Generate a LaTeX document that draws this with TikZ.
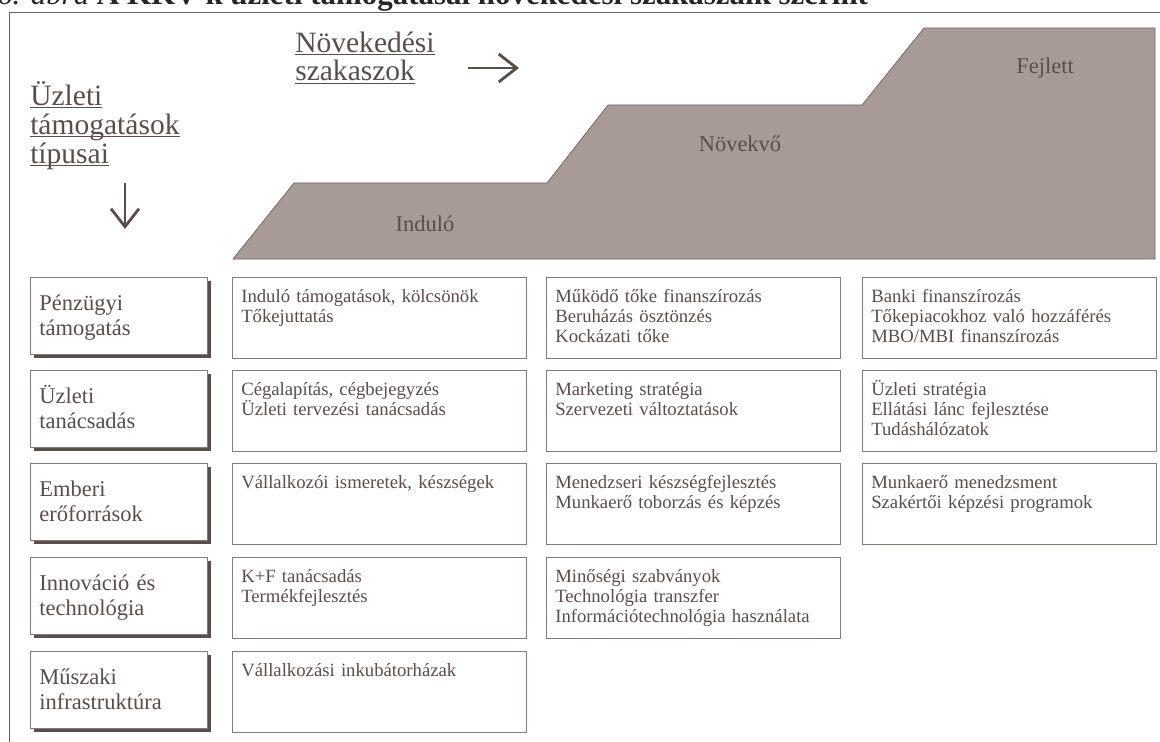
\documentclass[tikz,border=0pt]{standalone}
\usepackage{fontspec}
\setmainfont{Liberation Serif}
\usepackage{tikz}
\usetikzlibrary{arrows.meta,positioning,shadows}

\definecolor{inkc}{HTML}{5A4E4B}
\definecolor{rulec}{HTML}{857A77}
\definecolor{stagec}{HTML}{A89B97}
\definecolor{edgec}{HTML}{6E6360}

% underline at a fixed depth below the baseline
\newcommand{\ulx}[1]{\setbox0=\hbox{#1}\rlap{\rule[-2pt]{\wd0}{0.6pt}}\box0}

\begin{document}
\begin{tikzpicture}[
  x=0.025cm, y=-0.025cm,
  text=inkc,
  hdr/.style={anchor=base west,align=left,inner sep=0pt,
              font=\fontsize{21}{20.6}\selectfont},
  stage/.style={anchor=base,inner sep=0pt,font=\fontsize{16}{18}\selectfont},
  rowlbl/.style={draw=rulec,fill=white,anchor=north west,align=left,
                 text width=3.975cm,inner xsep=0.225cm,inner ysep=12.5pt,
                 text height=11pt,text depth=18.8pt,
                 font=\fontsize{16}{17.8}\selectfont,
                 drop shadow={shadow xshift=0.1cm,shadow yshift=-0.1cm,
                              fill=inkc,opacity=1}},
  cell/.style={draw=rulec,fill=white,anchor=north west,align=left,
               text width=6.9cm,inner xsep=0.225cm,inner ysep=8.8pt,
               text height=9pt,text depth=31pt,
               font=\fontsize{13.3}{14.2}\selectfont},
  arr/.style={-{Straight Barb[length=0.45cm,width=0.7cm]},line width=2pt,draw=inkc},
]
\useasboundingbox (0,0) rectangle (1160,742);
\clip (0,0) rectangle (1160,742);

%% ===== Caption (cut off at the top) ==========================================
\node[anchor=base west,inner sep=0pt,text=black!85,
      font=\fontsize{22}{24}\selectfont] (cap) at (-3,5)
  {\textit{6. ábra} \textbf{A KKV-k üzleti támogatásai növekedési szakaszaik szerint}};

%% ===== Frame =================================================================
\draw[edgec,line width=0.6pt] (9,12) rectangle (1180,760);

%% ===== Growth stages =========================================================
\draw[fill=stagec,draw=edgec,line width=0.5pt]
  (233,259) -- (294,183) -- (547,183) -- (608,105) -- (862,105)
  -- (924,28) -- (1155,28) -- (1155,259) -- cycle;
\node[stage] (st1) at (425,231) {Induló};
\node[stage] (st2) at (740,152) {Növekvő};
\node[stage] (st3) at (1045,74) {Fejlett};

%% ===== Headings (anchored at the last line) ==================================
\node[hdr] (hstage) at (295,81) {\ulx{Növekedési}\\\ulx{szakaszok}};
\coordinate (ha1) at (468,68);
\coordinate (ha2) at (519,68);
\draw[arr] (ha1) -- (ha2);

\node[hdr] (htype) at (30,163) {\ulx{Üzleti}\\\ulx{támogatások}\\\ulx{típusai}};
\coordinate (hb1) at (125,183);
\coordinate (hb2) at (125,229);
\draw[arr] (hb1) -- (hb2);

%% ===== Support types (rows) ==================================================
\node[rowlbl] (r1) at (30,277) {Pénzügyi\\támogatás};
\node[rowlbl] (r2) at (30,370) {Üzleti\\tanácsadás};
\node[rowlbl] (r3) at (30,463) {Emberi\\erőforrások};
\node[rowlbl] (r4) at (30,557) {Innováció és\\technológia};
\node[rowlbl] (r5) at (30,651) {Műszaki\\infrastruktúra};

%% ===== Stage 1: Induló =======================================================
\node[cell] (c11) at (232,277) {Induló támogatások, kölcsönök\\Tőkejuttatás};
\node[cell] (c21) at (232,370) {Cégalapítás, cégbejegyzés\\Üzleti tervezési tanácsadás};
\node[cell] (c31) at (232,463) {Vállalkozói ismeretek, készségek};
\node[cell] (c41) at (232,557) {K+F tanácsadás\\Termékfejlesztés};
\node[cell] (c51) at (232,651) {Vállalkozási inkubátorházak};

%% ===== Stage 2: Növekvő ======================================================
\node[cell] (c12) at (546,277) {Működő tőke finanszírozás\\Beruházás ösztönzés\\Kockázati tőke};
\node[cell] (c22) at (546,370) {Marketing stratégia\\Szervezeti változtatások};
\node[cell] (c32) at (546,463) {Menedzseri készségfejlesztés\\Munkaerő toborzás és képzés};
\node[cell] (c42) at (546,557) {Minőségi szabványok\\Technológia transzfer\\Információtechnológia használata};

%% ===== Stage 3: Fejlett ======================================================
\node[cell] (c13) at (862,277) {Banki finanszírozás\\Tőkepiacokhoz való hozzáférés\\MBO/MBI finanszírozás};
\node[cell] (c23) at (862,370) {Üzleti stratégia\\Ellátási lánc fejlesztése\\Tudáshálózatok};
\node[cell] (c33) at (862,463) {Munkaerő menedzsment\\Szakértői képzési programok};

\end{tikzpicture}
\end{document}
